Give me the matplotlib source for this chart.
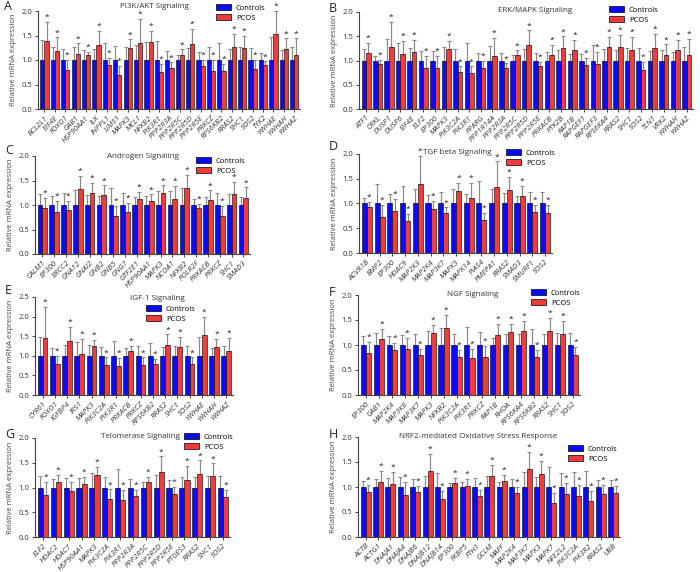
import matplotlib
matplotlib.use("Agg")
import matplotlib.pyplot as plt
from matplotlib.patches import Patch
import numpy as np

plt.rcParams['font.family'] = ['Open Sans', 'DejaVu Sans']

CTRL = 1.0

# ---------------- Panel A: PI3K/AKT ----------------
genesA = ["BCL2L1", "EIF4E", "FOXO1", "GAB1", "HSP90AA1", "ILK", "INPPL1", "LIMS1", "MAPK3", "MCL1",
          "NFKB2", "PIK3R1", "PPP2R3A", "PPP2R5C", "PPP2R5D", "PPP2R5E", "PRKCZ", "RPS6KB2", "RRAS2",
          "SHC1", "SOS2", "TYK2", "YWHAE", "YWHAH", "YWHAZ"]
ctrl_topA = [1.41, 1.26, 1.22, 1.27, 1.20, 1.22, 1.34, 1.29, 1.27, 1.30, 1.36, 1.39, 1.18, 1.11, 1.25,
             1.17, 1.27, 1.34, 1.22, 1.26, 1.24, 1.14, 1.46, 1.20, 1.27]
pcosA = [1.39, 1.18, 0.79, 1.12, 1.10, 1.31, 0.89, 0.69, 1.25, 1.34, 1.36, 0.76, 0.83, 1.11, 1.33,
         0.87, 0.78, 0.78, 1.27, 1.24, 0.81, 0.89, 1.54, 1.22, 1.11]
pcos_topA = [1.78, 1.46, 1.00, 1.34, 1.17, 1.60, 1.04, 0.88, 1.42, 1.84, 1.60, 0.92, 0.95, 1.22, 1.63,
             1.00, 1.00, 0.92, 1.54, 1.49, 1.01, 0.97, 2.00, 1.44, 1.44]

# ---------------- Panel B: ERK/MAPK ----------------
genesB = ["ATF1", "CRKL", "DUSP1", "DUSP6", "EIF4E", "ELF2", "EP300", "MAPK3", "PIK3C2A", "PIK3R1",
          "PPARG", "PPP1R14A", "PPP2R3A", "PPP2R5C", "PPP2R5D", "PPP2R5E", "PRKACB", "PTK2B", "RAP1B",
          "RAPGEF1", "RAPGEF3", "RPS6KA4", "RRAS2", "SHC1", "SOS2", "TLN1", "VRK2", "YWHAH", "YWHAZ"]
ctrl_topB = [1.23, 1.09, 1.45, 1.37, 1.25, 1.19, 1.19, 1.27, 1.23, 1.37, 1.15, 1.30, 1.16, 1.11, 1.24,
             1.16, 1.17, 1.21, 1.14, 1.14, 1.31, 1.24, 1.21, 1.25, 1.25, 1.20, 1.21, 1.18, 1.27]
pcosB = [1.16, 0.92, 1.28, 1.13, 1.17, 0.84, 0.84, 1.24, 0.76, 0.74, 0.84, 1.10, 0.84, 1.11, 1.31,
         0.88, 1.11, 1.25, 1.21, 0.91, 0.92, 1.27, 1.27, 1.22, 0.81, 1.25, 1.11, 1.21, 1.11]
pcos_topB = [1.36, 1.02, 1.80, 1.40, 1.43, 1.09, 1.09, 1.40, 0.88, 0.88, 1.00, 1.47, 0.94, 1.21, 1.62,
             0.97, 1.32, 1.50, 1.43, 1.06, 1.18, 1.49, 1.53, 1.49, 0.97, 1.55, 1.33, 1.43, 1.45]

# ---------------- Panel C: Androgen ----------------
genesC = ["CALM1", "EP300", "ERCC2", "GNA12", "GNAI2", "GNB2", "GNB5", "GNG7", "GTF2E1", "HSP90AA1",
          "MAPK3", "NCOA1", "NFKB2", "POLR2F", "PRKACB", "PRKCZ", "SHC1", "SMAD3"]
ctrl_topC = [1.22, 1.18, 1.25, 1.30, 1.21, 1.18, 1.34, 1.24, 1.17, 1.18, 1.29, 1.29, 1.34, 1.13, 1.17,
             1.25, 1.23, 1.17]
pcosC = [0.93, 0.85, 0.89, 1.32, 1.25, 1.21, 0.77, 0.86, 1.13, 1.08, 1.25, 1.13, 1.34, 0.93, 1.10,
         0.77, 1.23, 1.14]
pcos_topC = [1.15, 1.08, 1.08, 1.59, 1.45, 1.40, 0.98, 1.04, 1.27, 1.22, 1.40, 1.39, 1.61, 1.03, 1.30,
             0.98, 1.47, 1.36]

# ---------------- Panel D: TGF beta ----------------
genesD = ["ACVR1B", "BMP2", "EP300", "HDAC9", "MAP2K3", "MAP2K4", "MAP3K7", "MAPK3", "MAPK14", "PIAS4",
          "PMEPA1", "RRAS2", "SMAD3", "SMURF1", "SOS2"]
ctrl_topD = [1.11, 1.39, 1.19, 1.36, 1.29, 1.18, 1.23, 1.29, 1.19, 1.46, 1.29, 1.21, 1.16, 1.23, 1.24]
pcosD = [0.93, 0.72, 0.85, 0.64, 1.40, 0.89, 0.81, 1.25, 1.12, 0.66, 1.34, 1.28, 1.16, 0.82, 0.81]
pcos_topD = [1.04, 0.97, 1.09, 0.79, 1.96, 1.06, 0.92, 1.41, 1.41, 0.81, 1.85, 1.54, 1.36, 0.97, 0.97]

# ---------------- Panel E: IGF-1 ----------------
genesE = ["CYR61", "FOXO1", "IGFBP4", "IRS1", "MAPK3", "PIK3C2A", "PIK3R1", "PRKACB", "PRKCZ",
          "RPS6KB2", "RRAS2", "SHC1", "SOS2", "YWHAE", "YWHAH", "YWHAZ"]
ctrl_topE = [1.49, 1.21, 1.28, 1.35, 1.28, 1.22, 1.37, 1.19, 1.26, 1.32, 1.23, 1.25, 1.25, 1.47, 1.20, 1.26]
pcosE = [1.45, 0.79, 1.37, 1.04, 1.24, 0.77, 0.75, 1.11, 0.76, 0.79, 1.28, 1.23, 0.80, 1.52, 1.23, 1.11]
pcos_topE = [2.24, 1.00, 1.73, 1.44, 1.41, 0.96, 0.94, 1.26, 0.96, 0.92, 1.55, 1.49, 0.96, 2.00, 1.43, 1.45]

# ---------------- Panel F: NGF ----------------
genesF = ["EP300", "GAB1", "MAP2K4", "MAP3K6", "MAP3K7", "MAPK3", "NFKB2", "PIK3C2A", "PIK3R1", "PRKCZ",
          "RAP1B", "RHOA", "RPS6KA4", "RPS6KB2", "RRAS2", "SHC1", "SOS2"]
ctrl_topF = [1.19, 1.25, 1.18, 1.21, 1.23, 1.28, 1.35, 1.22, 1.37, 1.27, 1.15, 1.23, 1.23, 1.33, 1.22,
             1.25, 1.25]
pcosF = [0.85, 1.12, 0.91, 0.93, 0.81, 1.24, 1.34, 0.76, 0.75, 0.77, 1.21, 1.26, 1.28, 0.77, 1.28,
         1.23, 0.81]
pcos_topF = [1.07, 1.32, 1.05, 1.15, 0.93, 1.41, 1.61, 0.90, 0.93, 0.99, 1.43, 1.43, 1.49, 0.91, 1.55,
             1.49, 0.96]

# ---------------- Panel G: Telomerase ----------------
genesG = ["ELF2", "HDAC2", "HDAC7", "HSP90AA1", "MAPK3", "PIK3C2A", "PIK3R1", "PPP2R3A", "PPP2R5C",
          "PPP2R5D", "PPP2R5E", "PTGES3", "RRAS2", "SHC1", "SOS2"]
ctrl_topG = [1.23, 1.17, 1.19, 1.19, 1.29, 1.22, 1.37, 1.17, 1.11, 1.25, 1.15, 1.21, 1.22, 1.24, 1.23]
pcosG = [0.85, 1.12, 0.92, 1.08, 1.25, 0.77, 0.75, 0.83, 1.12, 1.32, 0.87, 1.15, 1.27, 1.23, 0.80]
pcos_topG = [1.11, 1.25, 1.12, 1.22, 1.41, 0.96, 0.95, 0.95, 1.22, 1.63, 1.02, 1.44, 1.55, 1.49, 0.95]

# ---------------- Panel H: NRF2 ----------------
genesH = ["ACTB", "ACTG1", "DNAJA1", "DNAJA4", "DNAJB6", "DNAJB12", "DNAJB14", "EP300", "FKBP5", "FTH1",
          "GCLM", "MAFF", "MAP2K4", "MAP3K7", "MAPK3", "MAPK7", "NFE2L2", "PIK3C2A", "PIK3R2", "RRAS2", "UBB"]
ctrl_topH = [1.13, 1.17, 1.19, 1.21, 1.16, 1.22, 1.28, 1.08, 1.11, 1.19, 1.23, 1.11, 1.16, 1.30, 1.21,
             1.40, 1.29, 1.30, 1.32, 1.14, 1.14]
pcosH = [0.91, 1.11, 1.07, 0.84, 0.91, 1.33, 0.76, 1.08, 1.03, 0.83, 1.22, 1.12, 0.88, 1.37, 1.26,
         0.69, 0.86, 0.82, 0.72, 0.87, 0.89]
pcos_topH = [1.05, 1.33, 1.31, 1.10, 1.03, 1.66, 0.93, 1.18, 1.16, 0.95, 1.44, 1.25, 1.01, 1.70, 1.53,
             0.89, 1.08, 1.05, 0.93, 1.05, 1.03]

BLUE = "#0a0aff"
RED = "#f23b3b"
GRAY = "#8a8a8a"

W, H = 700, 572
fig = plt.figure(figsize=(7.0, 5.72), dpi=100)


def px_axes(l, r, t, b):
    return fig.add_axes([l / W, 1 - b / H, (r - l) / W, (b - t) / H])


panels = [
    ("A", genesA, ctrl_topA, pcosA, pcos_topA, (38, 300, 11, 109), 2.0, 0.5, "PI3K/AKT Signaling",
     (154, 7), (216, 4), (4, 7)),
    ("B", genesB, ctrl_topB, pcosB, pcos_topB, (359, 693, 12, 109), 2.0, 0.5, "ERK/MAPK Signaling",
     (535, 11), (609, 6), (329, 8)),
    ("C", genesC, ctrl_topC, pcosC, pcos_topC, (35, 250, 156, 254), 2.0, 0.5, "Androgen Signaling",
     (143, 157), (196, 157), (5, 150)),
    ("D", genesD, ctrl_topD, pcosD, pcos_topD, (359, 552, 154, 253), 2.0, 0.5, "TGF beta Signaling",
     (457, 153), (506, 149), (329, 146)),
    ("E", genesE, ctrl_topE, pcosE, pcos_topE, (35, 233, 297, 395), 2.5, 0.5, "IGF-1 Signaling",
     (157, 299), (146, 305), (5, 291)),
    ("F", genesF, ctrl_topF, pcosF, pcos_topF, (358, 580, 295, 395), 2.0, 0.5, "NGF Signaling",
     (473, 294), (531, 289), (329, 292)),
    ("G", genesG, ctrl_topG, pcosG, pcos_topG, (35, 230, 438, 537), 2.0, 0.5, "Telomerase Signaling",
     (140, 437), (184, 433), (5, 435)),
    ("H", genesH, ctrl_topH, pcosH, pcos_topH, (358, 620, 437, 537), 2.0, 0.5,
     "NRF2-mediated Oxidative Stress Response", (478, 437), (568, 445), (329, 435)),
]

for (lab, genes, ctop, pv, ptop, box, ymax, ystep, title, tpos, lpos, labpos) in panels:
    ax = px_axes(*box)
    n = len(genes)
    x = np.arange(n)
    bw = 0.4
    cvals = np.full(n, CTRL)
    cerr = np.array(ctop) - cvals
    perr = np.array(ptop) - np.array(pv)
    ax.bar(x - bw / 2, cvals, width=bw, color=BLUE, edgecolor="black", linewidth=0.4, zorder=2)
    ax.bar(x + bw / 2, pv, width=bw, color=RED, edgecolor="black", linewidth=0.4, zorder=2)
    ax.errorbar(x - bw / 2, cvals, yerr=[np.zeros(n), cerr], fmt="none", ecolor=GRAY,
                elinewidth=0.9, capsize=1.2, capthick=0.8, zorder=1)
    ax.errorbar(x + bw / 2, pv, yerr=[np.zeros(n), perr], fmt="none", ecolor=GRAY,
                elinewidth=0.9, capsize=1.2, capthick=0.8, zorder=1)
    for xi, t in zip(x, ptop):
        ax.text(xi + bw / 2, t + 0.01 * ymax, "*", ha="center", va="bottom", fontsize=6, color="#222222")
    ax.set_xlim(-0.62, n - 0.45)
    ax.set_ylim(0, ymax)
    ax.set_yticks(np.arange(0, ymax + 0.001, ystep))
    ax.set_yticklabels([f"{v:.1f}" for v in np.arange(0, ymax + 0.001, ystep)], fontsize=5.5, color="#333333")
    ax.set_xticks(x)
    ax.set_xticklabels(genes, rotation=45, ha="right", rotation_mode="anchor", fontsize=5.5,
                       fontstyle="italic", color="#333333")
    for s in ["top", "right"]:
        ax.spines[s].set_visible(False)
    for s in ["left", "bottom"]:
        ax.spines[s].set_color("#444444")
        ax.spines[s].set_linewidth(0.8)
    ax.tick_params(axis="both", length=2.5, width=0.7, color="#444444", pad=1.5)
    ax.set_ylabel("Relative mRNA expression", fontsize=5.5, color="#444444", labelpad=3)
    fig.text(tpos[0] / W, 1 - tpos[1] / H, title, ha="center", va="center", fontsize=5.8, color="#333333")
    fig.text(labpos[0] / W, 1 - labpos[1] / H, lab, ha="left", va="center", fontsize=9, color="#222222")
    handles = [Patch(facecolor=BLUE, edgecolor="black", linewidth=0.5, label="Controls"),
               Patch(facecolor=RED, edgecolor="black", linewidth=0.5, label="PCOS")]
    fig.legend(handles=handles, loc="upper left", bbox_to_anchor=(lpos[0] / W, 1 - lpos[1] / H),
               bbox_transform=fig.transFigure, frameon=False, fontsize=5.5, handlelength=2.0,
               handleheight=0.9, handletextpad=0.6, labelspacing=0.25, borderaxespad=0, borderpad=0)

fig.savefig("out.png", dpi=100)
